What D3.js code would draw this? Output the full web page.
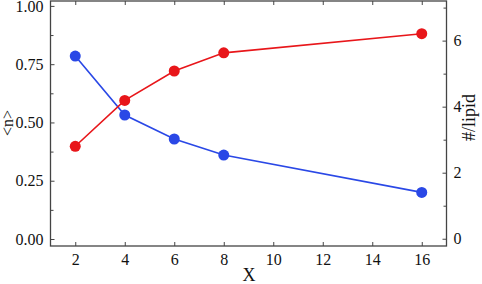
<!DOCTYPE html>
<html>
<head>
<meta charset="utf-8">
<script src="https://cdn.jsdelivr.net/npm/d3@7"></script>
<style>
  body { margin: 0; background: #fff; }
  svg text { font-family: "Liberation Serif", "Tinos", "Nimbus Roman", "FreeSerif", "Noto Serif", "DejaVu Serif", "Times New Roman", serif; }
</style>
</head>
<body>
<div id="chart"></div>
<script>
const xs = [2, 4, 6, 8, 16];
const nAvg = [0.785, 0.532, 0.429, 0.360, 0.200];   // <n>, left axis (blue)
const perLipid = [2.80, 4.19, 5.08, 5.63, 6.21];    // #/lipid, right axis (red)
const xTicks = [2, 4, 6, 8, 10, 12, 14, 16];
const leftTicks = [0, 0.25, 0.5, 0.75, 1.0];
const leftMinor = [0.125, 0.375, 0.625, 0.875];
const rightTicks = [0, 2, 4, 6];
const rightMinor = [1, 3, 5, 7];

const width = 482, height = 284;
const m = { left: 50.5, right: 35.5, top: 1, bottom: 38 };
const w = width - m.left - m.right, h = height - m.top - m.bottom;

const svg = d3.select("#chart").append("svg")
  .attr("width", width).attr("height", height);
const g = svg.append("g").attr("transform", `translate(${m.left},${m.top})`);

const x = d3.scaleLinear().domain([1, 17]).range([0, w]);
const yL = d3.scaleLinear().domain([-0.03, 1.021]).range([h, 0]);
const yR = d3.scaleLinear().domain([-0.22, 7.2]).range([h, 0]);

const frameColor = "#444";

// axes, ticks point inward
function styleAxis(sel) {
  sel.attr("font-size", 16);
  sel.select(".domain").remove();
  sel.selectAll(".tick line").attr("stroke", frameColor).attr("stroke-width", 1);
  sel.selectAll(".tick text").attr("fill", "#111");
}

g.append("g").attr("transform", `translate(0,${h})`)
  .call(d3.axisBottom(x).tickValues(xTicks).tickSizeInner(-4).tickSizeOuter(0).tickPadding(8).tickFormat(d3.format("d")))
  .call(styleAxis);
g.append("g")
  .call(d3.axisTop(x).tickValues(xTicks).tickSizeInner(-4).tickSizeOuter(0).tickFormat(""))
  .call(styleAxis);

g.append("g")
  .call(d3.axisLeft(yL).tickValues(leftTicks).tickSizeInner(-4).tickSizeOuter(0).tickPadding(7).tickFormat(d3.format(".2f")))
  .call(styleAxis);
g.append("g")
  .call(d3.axisLeft(yL).tickValues(leftMinor).tickSizeInner(-3).tickSizeOuter(0).tickFormat(""))
  .call(styleAxis);

g.append("g").attr("transform", `translate(${w},0)`)
  .call(d3.axisRight(yR).tickValues(rightTicks).tickSizeInner(-4).tickSizeOuter(0).tickPadding(7).tickFormat(d3.format("d")))
  .call(styleAxis);
g.append("g").attr("transform", `translate(${w},0)`)
  .call(d3.axisRight(yR).tickValues(rightMinor).tickSizeInner(-3).tickSizeOuter(0).tickFormat(""))
  .call(styleAxis);

// frame
g.append("rect").attr("x", 0).attr("y", 0).attr("width", w).attr("height", h)
  .attr("fill", "none").attr("stroke", frameColor).attr("stroke-width", 1.3);

// series
const blue = "#2a48e6", red = "#e8161a";
const lineL = d3.line().x((d, i) => x(xs[i])).y(d => yL(d));
const lineR = d3.line().x((d, i) => x(xs[i])).y(d => yR(d));

g.append("path").datum(nAvg).attr("d", lineL)
  .attr("fill", "none").attr("stroke", blue).attr("stroke-width", 1.6);
g.append("path").datum(perLipid).attr("d", lineR)
  .attr("fill", "none").attr("stroke", red).attr("stroke-width", 1.6);

g.selectAll(".pb").data(nAvg).enter().append("circle")
  .attr("cx", (d, i) => x(xs[i])).attr("cy", d => yL(d)).attr("r", 5.5).attr("fill", blue);
g.selectAll(".pr").data(perLipid).enter().append("circle")
  .attr("cx", (d, i) => x(xs[i])).attr("cy", d => yR(d)).attr("r", 5.5).attr("fill", red);

// axis titles
svg.append("text").attr("x", 249).attr("y", 281)
  .attr("text-anchor", "middle").attr("font-size", 18).attr("fill", "#111").text("X");
svg.append("text").attr("transform", `translate(13,123) rotate(-90)`)
  .attr("text-anchor", "middle").attr("font-size", 16).attr("fill", "#111").text("<n>");
svg.append("text").attr("transform", `translate(475,117.5) rotate(-90)`)
  .attr("text-anchor", "middle").attr("font-size", 18).attr("fill", "#111").text("#/lipid");
</script>
</body>
</html>
